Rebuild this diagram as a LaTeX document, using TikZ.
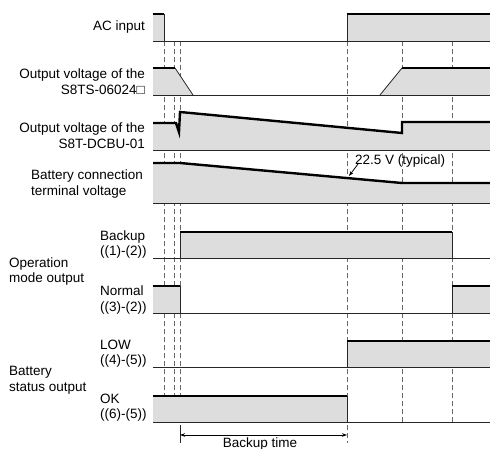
\documentclass[tikz,border=0pt]{standalone}
\usepackage{fontspec}
\setmainfont{Liberation Sans}
\usetikzlibrary{arrows.meta}
\definecolor{sigfill}{RGB}{220,221,220}
\definecolor{dashgray}{RGB}{105,105,105}
\begin{document}
\begin{tikzpicture}[x=1pt,y=-1pt,
  lbl/.style={inner sep=0pt,font=\fontsize{13.5}{15.5}\selectfont},
  rlbl/.style={lbl,anchor=east,align=right},
  llbl/.style={lbl,anchor=west,align=left},
  gfill/.style={fill=sigfill,draw=none},
  rail/.style={line width=0.9pt,black!85},
  edge/.style={line width=0.8pt,black!85},
  level/.style={line width=2.4pt,black,line cap=butt,line join=miter},
  guide/.style={dashgray,line width=0.9pt,dash pattern=on 5pt off 3pt}]
\useasboundingbox (0,0) rectangle (490,449);
\fill[white] (0,0) rectangle (490,449);
% guide lines
\foreach \x in {164,174,180} \draw[guide] (\x,41) -- (\x,396);
\draw[guide] (347,41) -- (347,443);
\foreach \x in {402,452} \draw[guide] (\x,41) -- (\x,422);
% fills
\fill[gfill] (153,41) rectangle (164,14);
\fill[gfill] (347,41) rectangle (490,14);
\fill[gfill] (153,95) -- (153,68) -- (175,68) -- (193,95) -- cycle;
\fill[gfill] (380,95) -- (402,68) -- (490,68) -- (490,95) -- cycle;
\fill[gfill] (153,150) -- (153,123) -- (176,123) -- (179,132) -- (180,112) -- (402,133) -- (402,122) -- (490,122) -- (490,150) -- cycle;
\fill[gfill] (153,203) -- (153,163) -- (180,163) -- (402,183) -- (490,183) -- (490,203) -- cycle;
\fill[gfill] (180,258) rectangle (452,232);
\fill[gfill] (153,313) rectangle (180,286);
\fill[gfill] (452,313) rectangle (490,286);
\fill[gfill] (347,367) rectangle (490,341);
\fill[gfill] (153,422) rectangle (347,396);
% rails
\foreach \y in {41,95,150,203,258,313,367,422} \draw[rail] (153,\y) -- (490,\y);
% edges
\draw[edge] (164,14) -- (164,41);
\draw[edge] (347,14) -- (347,41);
\draw[edge] (175,68) -- (193,95);
\draw[edge] (380,95) -- (402,68);
\draw[edge] (180,232) -- (180,258);
\draw[edge] (452,232) -- (452,258);
\draw[edge] (180,286) -- (180,313);
\draw[edge] (452,286) -- (452,313);
\draw[edge] (347,341) -- (347,367);
\draw[edge] (347,396) -- (347,422);
% levels
\draw[level] (153,14) -- (164,14);
\draw[level] (347,14) -- (490,14);
\draw[level] (153,68) -- (175,68);
\draw[level] (402,68) -- (490,68);
\draw[level] (153,123) -- (176,123) -- (179,132) -- (180,112) -- (402,133) -- (402,122) -- (490,122);
\draw[level] (153,163) -- (180,163) -- (402,183) -- (490,183);
\draw[level] (180,232) -- (452,232);
\draw[level] (153,286) -- (180,286);
\draw[level] (452,286) -- (490,286);
\draw[level] (347,341) -- (490,341);
\draw[level] (153,396) -- (347,396);
% labels
\node[rlbl] (ac) at (145,27) {AC input};
\node[rlbl] (ts) at (145,81.5) {Output voltage of the\\S8TS-06024□};
\node[rlbl] (dc) at (145,135.5) {Output voltage of the\\S8T-DCBU-01};
\node[llbl] (bat) at (31,184) {Battery connection\\terminal voltage};
\node[llbl] (bk) at (100,244.5) {Backup\\((1)-(2))};
\node[llbl] (op) at (9,271.5) {Operation\\mode output};
\node[llbl] (nm) at (100,300) {Normal\\((3)-(2))};
\node[llbl] (low) at (100,353.5) {LOW\\((4)-(5))};
\node[llbl] (bs) at (9,380.5) {Battery\\status output};
\node[llbl] (ok) at (100,407.5) {OK\\((6)-(5))};
% 22.5 V annotation
\node[llbl] (typ) at (355,161) {22.5 V (typical)};
\coordinate (vpt) at (349,176);
\draw[line width=0.8pt,-{Stealth[length=5pt,width=3.5pt]}] ([xshift=3pt,yshift=-3pt]typ.west) -- (vpt);
% backup time
\coordinate (bt1) at (180,435);
\coordinate (bt2) at (347,435);
\draw[edge] (180,425) -- (180,443);
\draw[line width=0.8pt,{Stealth[length=5pt,width=3.5pt]}-{Stealth[length=5pt,width=3.5pt]}] (bt1) -- (bt2);
\node[lbl,anchor=base] (btt) at (260,447.5) {Backup time};
\end{tikzpicture}
\end{document}
